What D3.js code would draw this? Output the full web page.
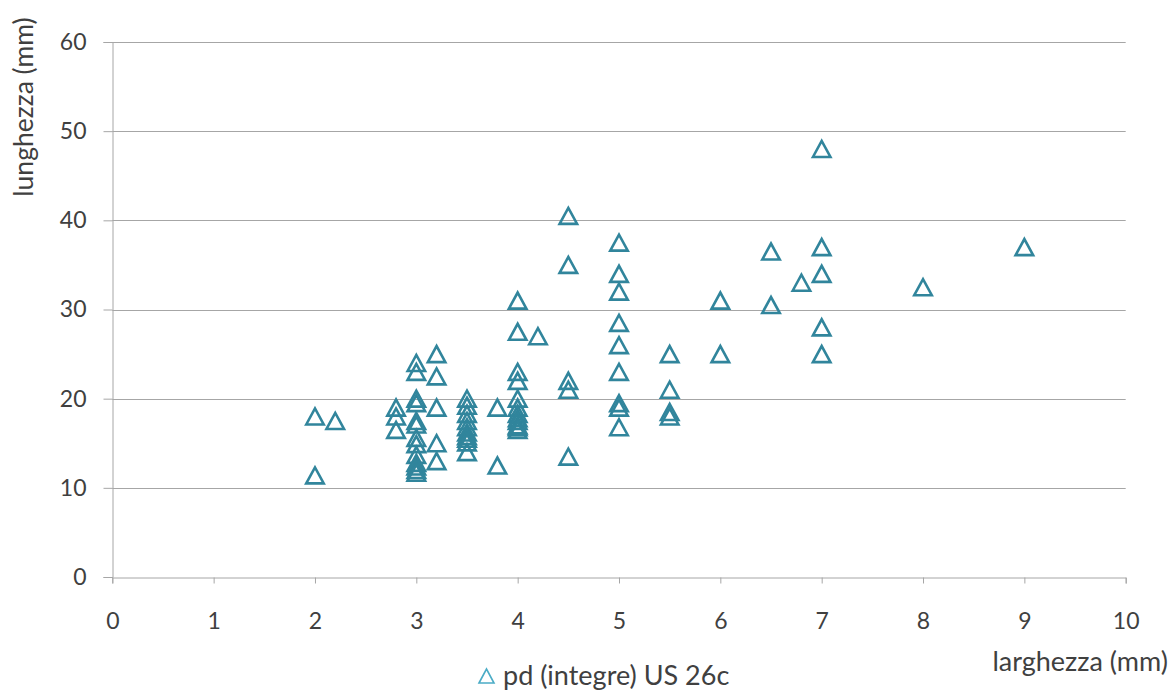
<!DOCTYPE html>
<html>
<head>
<meta charset="utf-8">
<script src="https://cdn.jsdelivr.net/npm/d3@7"></script>
<style>
  html, body { margin: 0; padding: 0; background: #fff; }
  svg { display: block; font-family: Lato, "Open Sans", sans-serif; }
</style>
</head>
<body>
<svg id="chart" width="1175" height="695"></svg>
<script>
// Measurements: width (larghezza) and length (lunghezza) in mm, one entry per specimen
const larghezza = [
  2, 2, 2.2,
  2.8, 2.8, 2.8,
  3, 3, 3, 3, 3, 3, 3, 3, 3, 3, 3, 3, 3,
  3.2, 3.2, 3.2, 3.2, 3.2,
  3.5, 3.5, 3.5, 3.5, 3.5, 3.5, 3.5, 3.5, 3.5, 3.5,
  3.8, 3.8,
  4, 4, 4, 4, 4, 4, 4, 4, 4, 4, 4, 4,
  4.2,
  4.5, 4.5, 4.5, 4.5, 4.5,
  5, 5, 5, 5, 5, 5, 5, 5, 5,
  5.5, 5.5, 5.5, 5.5,
  6, 6,
  6.5, 6.5,
  6.8,
  7, 7, 7, 7, 7,
  8,
  9
];
const lunghezza = [
  18, 11.4, 17.5,
  19, 18, 16.5,
  24, 23, 20, 19.5, 17.5, 17.1, 15.6, 14.9, 13.7, 12.8, 12.4, 12.0, 11.7,
  25, 22.5, 19, 15, 13,
  20, 19.2, 18.3, 17.5, 16.8, 16.2, 15.8, 15.5, 15.1, 14,
  19, 12.5,
  31, 27.5, 23, 22, 20, 19, 18.3, 17.8, 17.5, 17, 16.8, 16.5,
  27,
  40.5, 35, 22, 21, 13.5,
  37.5, 34, 32, 28.5, 26, 23, 19.5, 19, 16.8,
  25, 21, 18.5, 18,
  31, 25,
  36.5, 30.5,
  33,
  48, 37, 34, 28, 25,
  32.5,
  37
];
const xTicks = [0, 1, 2, 3, 4, 5, 6, 7, 8, 9, 10];
const yTicks = [0, 10, 20, 30, 40, 50, 60];
const seriesName = "pd (integre) US 26c";
const xTitle = "larghezza (mm)";
const yTitle = "lunghezza (mm)";

const svg = d3.select("#chart");
const x = d3.scaleLinear().domain([0, 10]).range([112.3, 1125.7]);
const y = d3.scaleLinear().domain([0, 60]).range([577, 42]);

const gridColor = "#a6a6a6";
const textColor = "#404040";
const markColor = "#31859c";
const font = "Lato, 'Open Sans', sans-serif";

// Horizontal gridlines
svg.append("g")
  .selectAll("line")
  .data(yTicks.filter(d => d > 0))
  .join("line")
  .attr("x1", x(0)).attr("x2", x(10))
  .attr("y1", d => Math.round(y(d)) + 0.5).attr("y2", d => Math.round(y(d)) + 0.5)
  .attr("stroke", gridColor).attr("stroke-width", 1);

// Y axis
const yAxis = svg.append("g")
  .attr("transform", `translate(${Math.round(x(0)) + 0.5},0)`)
  .call(d3.axisLeft(y).tickValues(yTicks).tickSize(9).tickPadding(17).tickFormat(d3.format("d")));
yAxis.select(".domain").attr("stroke", gridColor);
yAxis.selectAll(".tick line").attr("stroke", gridColor);
yAxis.selectAll(".tick text").attr("fill", textColor).attr("font-size", 23)
  .attr("font-family", font);

// X axis
const xAxis = svg.append("g")
  .attr("transform", `translate(0,${Math.round(y(0)) + 0.5})`)
  .call(d3.axisBottom(x).tickValues(xTicks).tickSize(6).tickPadding(29).tickFormat(d3.format("d")));
xAxis.select(".domain").attr("stroke", gridColor);
xAxis.selectAll(".tick line").attr("stroke", gridColor);
xAxis.selectAll(".tick text").attr("fill", textColor).attr("font-size", 23)
  .attr("font-family", font);

// Triangle marker path centred on (cx, cy)
function tri(cx, cy, w, h) {
  return `M${cx - w / 2},${cy + h / 2}L${cx},${cy - h / 2}L${cx + w / 2},${cy + h / 2}Z`;
}

// Data points
svg.append("g")
  .selectAll("path")
  .data(larghezza.map((w, i) => ({ w, l: lunghezza[i] })))
  .join("path")
  .attr("d", d => tri(x(d.w), y(d.l), 17.5, 16))
  .attr("fill", "none")
  .attr("stroke", markColor)
  .attr("stroke-width", 2.6)
  .attr("stroke-linejoin", "miter");

// Axis titles
svg.append("text")
  .attr("transform", `translate(33,107) rotate(-90)`)
  .attr("text-anchor", "middle")
  .attr("fill", textColor)
  .attr("font-size", 26.5)
  .text(yTitle);

svg.append("text")
  .attr("x", 1168).attr("y", 671)
  .attr("text-anchor", "end")
  .attr("fill", textColor)
  .attr("font-size", 27)
  .text(xTitle);

// Legend
const legend = svg.append("g");
legend.append("path")
  .attr("d", tri(486.5, 676, 15, 14))
  .attr("fill", "none")
  .attr("stroke", "#4bacc6")
  .attr("stroke-width", 1.6);
legend.append("text")
  .attr("x", 503).attr("y", 685)
  .attr("fill", textColor)
  .attr("font-size", 27)
  .text(seriesName);
</script>
</body>
</html>
